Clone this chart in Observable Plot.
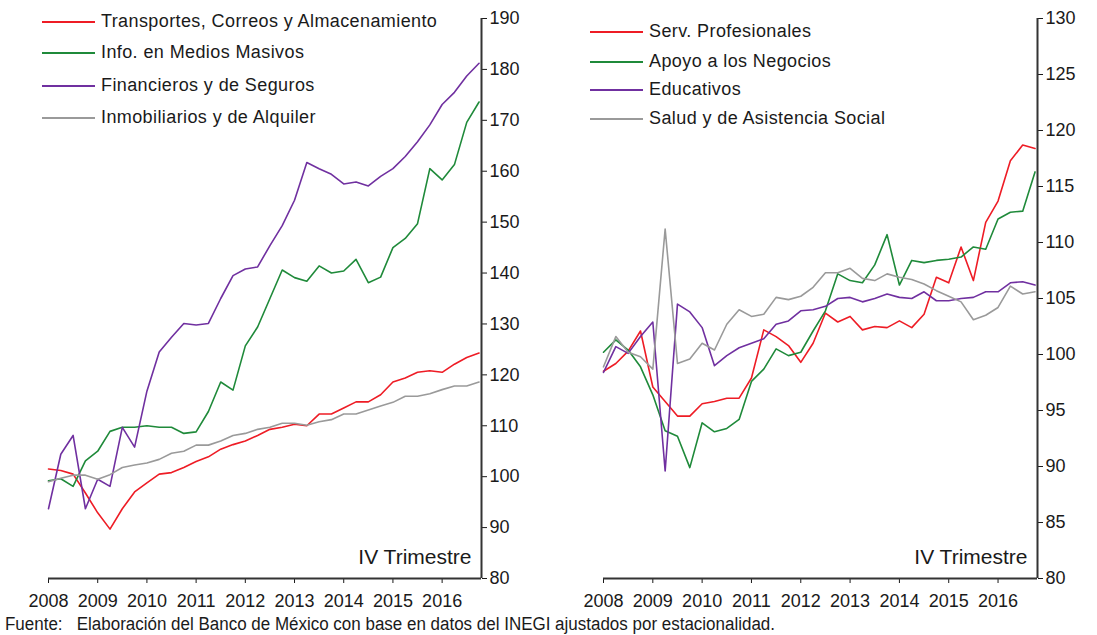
<!DOCTYPE html>
<html>
<head>
<meta charset="utf-8">
<script src="https://cdn.jsdelivr.net/npm/d3@7"></script>
<script src="https://cdn.jsdelivr.net/npm/@observablehq/plot@0.6"></script>
<style>
  html, body { margin: 0; padding: 0; background: #fff; }
  body { width: 1097px; height: 635px; position: relative; overflow: hidden; font-family: "Liberation Sans", Arial, sans-serif; color: #1a1a1a; }
  .panel { position: absolute; top: 0; }
  .legend { position: absolute; font-size: 18px; letter-spacing: 0.4px; }
  .legend .row { position: absolute; white-space: nowrap; display: flex; align-items: center; }
  .legend .sw { display: inline-block; width: 53px; height: 0; border-top: 2px solid; margin-right: 6px; }
  .footer { position: absolute; left: 5px; top: 614px; font-size: 18px; white-space: pre; transform-origin: 0 0; }
</style>
</head>
<body>
<div id="left" class="panel" style="left:0px"></div>
<div id="right" class="panel" style="left:555px"></div>
<div id="legL" class="legend" style="left:42px; top:0px"></div>
<div id="legR" class="legend" style="left:590px; top:0px"></div>
<div id="footer" class="footer">Fuente:   Elaboración del Banco de México con base en datos del INEGI ajustados por estacionalidad.</div>
<script>
// ---- Data (quarterly, 2008 Q1 – 2016 Q4, index) ----
const years = [2008, 2009, 2010, 2011, 2012, 2013, 2014, 2015, 2016];
const quarters = [1, 2, 3, 4];

const leftNames = ["Transportes, Correos y Almacenamiento", "Info. en Medios Masivos", "Financieros y de Seguros", "Inmobiliarios y de Alquiler"];
const rightNames = ["Serv. Profesionales", "Apoyo a los Negocios", "Educativos", "Salud y de Asistencia Social"];
const colors = ["#ee1c25", "#1f8a3a", "#7030a0", "#9a9a9a"];

const transportes = [101.5,101.2,100.5,96.8,92.9,89.7,93.7,97.0,98.8,100.5,100.8,101.8,103.0,103.9,105.4,106.3,107.0,108.1,109.3,109.7,110.3,110.0,112.3,112.3,113.5,114.7,114.7,116.1,118.6,119.4,120.5,120.8,120.5,122.1,123.4,124.3];
const medios = [99.2,99.6,98.1,103.1,105.0,108.9,109.7,109.7,110.0,109.7,109.7,108.5,108.8,112.8,118.6,117.0,125.7,129.4,135.0,140.6,139.1,138.4,141.4,140.0,140.4,142.7,138.1,139.2,145.0,146.8,149.7,160.5,158.3,161.3,169.6,173.6];
const financieros = [93.7,104.4,108.1,93.7,99.5,98.1,109.7,105.8,116.8,124.5,127.4,130.1,129.8,130.1,135.0,139.5,140.8,141.2,145.4,149.3,154.3,161.7,160.5,159.4,157.5,157.9,157.1,159.0,160.5,162.9,165.8,169.1,173.1,175.5,178.7,181.2];
const inmobiliarios = [99.0,99.7,100.3,100.3,99.5,100.4,101.8,102.3,102.7,103.4,104.6,105.0,106.2,106.2,107.0,108.1,108.5,109.3,109.7,110.5,110.5,110.1,110.8,111.2,112.3,112.3,113.1,113.9,114.6,115.8,115.8,116.3,117.1,117.8,117.8,118.6];

const profesionales = [98.5,99.2,100.3,102.1,97.1,95.8,94.5,94.5,95.6,95.8,96.1,96.1,97.9,102.2,101.6,100.8,99.3,101.0,103.7,102.9,103.4,102.2,102.5,102.4,103.0,102.4,103.6,106.9,106.4,109.6,106.6,111.8,113.7,117.3,118.7,118.4];
const apoyo = [100.2,101.3,100.4,98.9,96.4,93.2,92.7,89.9,93.9,93.1,93.4,94.2,97.6,98.7,100.5,99.9,100.2,102.1,103.9,107.2,106.6,106.4,108.0,110.7,106.2,108.4,108.2,108.4,108.5,108.7,109.6,109.4,112.1,112.7,112.8,116.3];
const educativos = [98.4,100.7,100.1,101.6,102.9,89.6,104.5,103.8,102.4,99.0,99.9,100.6,101.0,101.4,102.7,103.0,103.9,104.0,104.3,105.0,105.1,104.7,105.0,105.4,105.1,105.0,105.6,104.8,104.8,105.0,105.1,105.6,105.6,106.4,106.5,106.2];
const salud = [98.9,101.6,100.2,99.8,98.7,111.2,99.2,99.6,101.0,100.4,102.7,104.0,103.4,103.6,105.1,104.9,105.2,106.0,107.3,107.3,107.7,106.8,106.6,107.2,106.9,106.7,106.3,105.7,105.2,104.7,103.1,103.5,104.2,106.1,105.4,105.6];

const leftTicks = [80,90,100,110,120,130,140,150,160,170,180,190];
const rightTicks = [80,85,90,95,100,105,110,115,120,125,130];

// quarter positions: year + (q-1)/4
const t = years.flatMap(y => quarters.map(q => y + (q - 1) / 4));

function table(series) {
  return series.map((vals, k) => vals.map((v, i) => ({t: t[i], v, k}))).flat();
}

const axisColor = "#333";

function makePanel(series, yDomain, yTicks, width, mr) {
  const data = table(series);
  return Plot.plot({
    width, height: 620,
    marginLeft: 48, marginRight: mr, marginTop: 18, marginBottom: 42,
    style: {fontFamily: "'Liberation Sans', Arial, sans-serif", fontSize: "18px", color: "#1a1a1a", background: "transparent"},
    x: {domain: [2008, 2016.8], ticks: years, tickFormat: d => String(d), tickSize: 5, tickPadding: 11, label: null},
    y: {domain: yDomain, ticks: yTicks, axis: "right", tickSize: 5, tickPadding: 3, label: null},
    marks: [
      Plot.ruleY([yDomain[0]], {stroke: axisColor, strokeWidth: 2}),
      Plot.ruleX([2016.8], {stroke: axisColor, strokeWidth: 2}),
      ...series.map((s, k) => Plot.line(data.filter(d => d.k === k), {x: "t", y: "v", stroke: colors[k], strokeWidth: 1.6})),
      Plot.text(["IV Trimestre"], {frameAnchor: "bottom-right", dx: -10, dy: -15, fontSize: 21, fill: "#1a1a1a"})
    ]
  });
}

document.getElementById("left").appendChild(makePanel([transportes, medios, financieros, inmobiliarios], [80, 190], leftTicks, 548, 67));
document.getElementById("right").appendChild(makePanel([profesionales, apoyo, educativos, salud], [80, 130], rightTicks, 542, 60));

function legend(el, names, tops) {
  names.forEach((n, k) => {
    const row = document.createElement("div");
    row.className = "row";
    row.style.top = tops[k] + "px";
    row.innerHTML = `<span class="sw" style="border-color:${colors[k]}"></span><span>${n}</span>`;
    el.appendChild(row);
  });
}
legend(document.getElementById("legL"), leftNames, [11, 42, 75, 107]);
legend(document.getElementById("legR"), rightNames, [21, 51, 79, 108]);

// condense footer to the reference width (narrow typeface)
const footer = document.getElementById("footer");
const fw = footer.getBoundingClientRect().width;
footer.style.transform = `scaleX(${770 / fw})`;
</script>
</body>
</html>
